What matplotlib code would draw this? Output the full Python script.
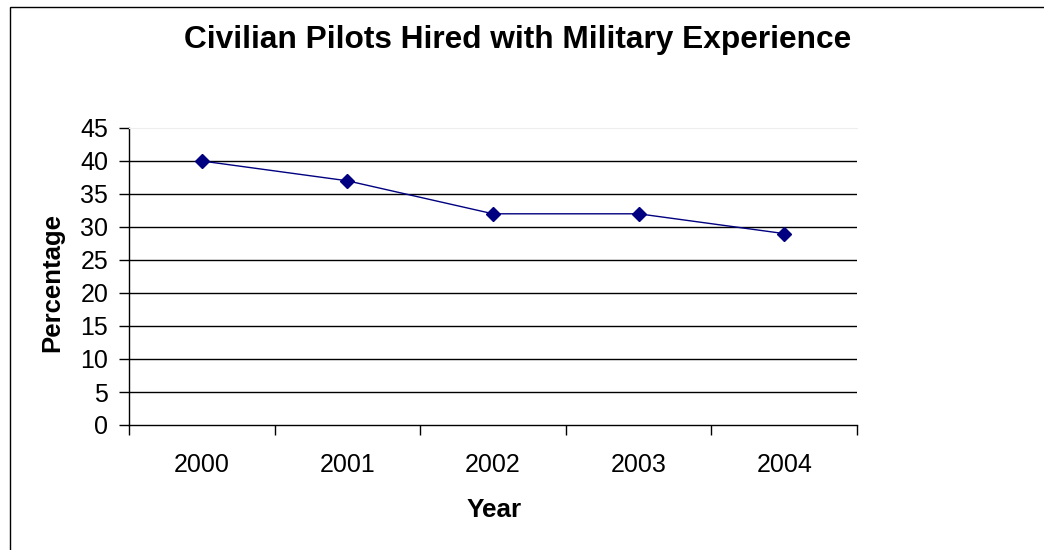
import matplotlib.pyplot as plt
from matplotlib.patches import Rectangle

years = ['2000', '2001', '2002', '2003', '2004']
percentage = [40, 37, 32, 32, 29]
y_ticks = [0, 5, 10, 15, 20, 25, 30, 35, 40, 45]

plt.rcParams['font.family'] = ['Liberation Sans', 'DejaVu Sans']

fig = plt.figure(figsize=(10.44, 5.5), dpi=100)
ax = fig.add_axes([129 / 1044, 1 - 425 / 550, 728 / 1044, 297 / 550])

x = list(range(len(years)))
ax.plot(x, percentage, color='#000080', linewidth=1, marker='D', markersize=7.5,
        markerfacecolor='#000080', markeredgecolor='#000080', zorder=3)

ax.set_xlim(-0.5, len(years) - 0.5)
ax.set_ylim(0, 45)

# horizontal gridlines
for v in y_ticks[1:-1]:
    ax.axhline(v, color='black', linewidth=1, zorder=1)

ax.set_yticks(y_ticks)
ax.tick_params(axis='y', length=7, width=1, pad=8, labelsize=18, direction='out')

# category boundaries get ticks, labels go in the middle
ax.set_xticks([i - 0.5 for i in range(len(years) + 1)])
ax.set_xticklabels([])
ax.set_xticks(x, minor=True)
ax.set_xticklabels(years, minor=True)
ax.tick_params(axis='x', which='major', length=7, width=1, direction='out')
ax.tick_params(axis='x', which='minor', length=0, pad=20, labelsize=18)

ax.spines['right'].set_visible(False)
ax.spines['top'].set_color('#eeeeee')
ax.spines['left'].set_linewidth(1)
ax.spines['bottom'].set_linewidth(1)

fig.text(518 / 1044, 1 - 40 / 550, 'Civilian Pilots Hired with Military Experience',
         ha='center', va='center', fontsize=22.8, fontweight='bold')
fig.text(494 / 1044, 1 - 510 / 550, 'Year', ha='center', va='center',
         fontsize=18.8, fontweight='bold')
fig.text(52 / 1044, 1 - 282 / 550, 'Percentage', ha='center', va='center',
         rotation=90, fontsize=18.5, fontweight='bold')

# outer chart frame (cut off at right and bottom)
fig.add_artist(Rectangle((9.5 / 1044, -0.2), 1.5, 1.2 - 6.5 / 550,
                         transform=fig.transFigure, fill=False,
                         edgecolor='black', linewidth=1))

plt.savefig('out.png', dpi=100)
